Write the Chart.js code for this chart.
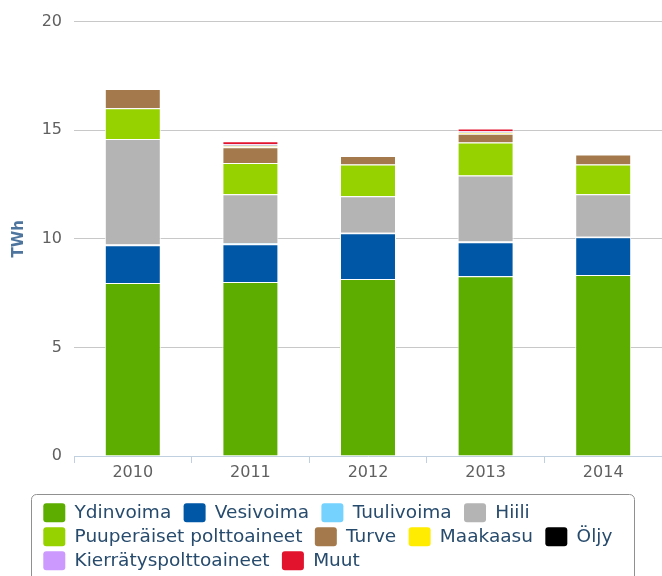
<!DOCTYPE html>
<html>
<head>
<meta charset="utf-8">
<script src="https://cdn.jsdelivr.net/npm/chart.js@4.4.1/dist/chart.umd.min.js"></script>
<style>
  html, body { margin: 0; padding: 0; background: #ffffff; }
  #wrap { width: 662px; height: 576px; position: relative; }
</style>
</head>
<body>
<div id="wrap"><canvas id="c" width="662" height="576"></canvas></div>
<script>
// ---- data (TWh) ----
const categories = ['2010', '2011', '2012', '2013', '2014'];
const ydinvoima  = [7.96, 8.01, 8.15, 8.28, 8.33];
const vesivoima  = [1.74, 1.74, 2.10, 1.56, 1.74];
const tuulivoima = [0.04, 0.04, 0.03, 0.03, 0.03];
const hiili      = [4.85, 2.26, 1.68, 3.05, 1.95];
const puuperaiset = [1.42, 1.44, 1.46, 1.51, 1.37];
const turve      = [0.89, 0.73, 0.39, 0.41, 0.46];
const maakaasu   = [0, 0.045, 0, 0.04, 0];
const oljy       = [0, 0.04, 0, 0.03, 0];
const kierratys  = [0, 0.045, 0, 0.04, 0];
const muut       = [0, 0.14, 0, 0.13, 0];
const yTicks = [0, 5, 10, 15, 20];

const seriesNames = ['Ydinvoima', 'Vesivoima', 'Tuulivoima', 'Hiili', 'Puuperäiset polttoaineet',
  'Turve', 'Maakaasu', 'Öljy', 'Kierrätyspolttoaineet', 'Muut'];
const seriesValues = [ydinvoima, vesivoima, tuulivoima, hiili, puuperaiset, turve, maakaasu, oljy, kierratys, muut];
const seriesColors = ['#5cad00', '#0057a6', '#75d2ff', '#b4b4b4', '#96d100',
  '#a47a4c', '#ffec00', '#000000', '#cc99ff', '#e2132d'];

Chart.defaults.font.family = '"DejaVu Sans", Verdana, sans-serif';

const datasets = seriesNames.map((name, i) => ({
  label: name,
  data: seriesValues[i],
  backgroundColor: seriesColors[i],
  borderColor: '#ffffff',
  borderWidth: 1,
  barPercentage: 0.476,
  categoryPercentage: 1.0
}));

const legendPlace = {
  id: 'legendPlace',
  beforeDraw(chart) {
    const lg = chart.legend;
    lg.left = 38.3;
    lg.right = 660;
    lg.top = 498.2;
    lg.bottom = lg.top + lg.height + 20;
  },
  afterDraw(chart) {
    const lg = chart.legend;
    const ctx = chart.ctx;
    const x = lg.left - 7, y = lg.top - 4.7, w = 634 - x, h = 100, r = 5;
    ctx.save();
    ctx.strokeStyle = '#909090';
    ctx.lineWidth = 1;
    ctx.beginPath();
    const X = Math.round(x) + 0.5, Y = Math.round(y) + 0.5, W = Math.round(w), H = h;
    ctx.moveTo(X + r, Y);
    ctx.lineTo(X + W - r, Y);
    ctx.arcTo(X + W, Y, X + W, Y + r, r);
    ctx.lineTo(X + W, Y + H);
    ctx.moveTo(X, Y + H);
    ctx.lineTo(X, Y + r);
    ctx.arcTo(X, Y, X + r, Y, r);
    ctx.stroke();
    ctx.restore();
  }
};

new Chart(document.getElementById('c'), {
  type: 'bar',
  data: { labels: categories, datasets },
  options: {
    responsive: false,
    animation: false,
    devicePixelRatio: 1,
    layout: { padding: { left: 10, top: 18, right: 0, bottom: 12 } },
    plugins: {
      tooltip: { enabled: false },
      legend: {
        position: 'bottom',
        align: 'start',
        labels: {
          font: { size: 18.5 },
          color: '#274b6d',
          boxWidth: 22,
          boxHeight: 19,
          padding: 5,
          useBorderRadius: true,
          borderRadius: 3,
          generateLabels(chart) {
            const items = Chart.defaults.plugins.legend.labels.generateLabels(chart);
            items.forEach(it => {
              it.text = it.text + '\u2009\u2009';
              it.strokeStyle = it.fillStyle;
              it.lineWidth = 0;
            });
            return items;
          }
        }
      }
    },
    scales: {
      x: {
        stacked: true,
        grid: { offset: true, drawOnChartArea: false, tickLength: 7, color: '#c0d0e0' },
        border: { color: '#c0d0e0' },
        ticks: { color: '#606060', font: { size: 16 }, padding: 0, maxRotation: 0 },
        afterFit(s) { s.height = 26; }
      },
      y: {
        stacked: true,
        min: 0,
        max: 20,
        afterBuildTicks(s) { s.ticks = yTicks.map(v => ({ value: v })); },
        ticks: { color: '#606060', font: { size: 16 }, padding: 12 },
        grid: {
          drawTicks: false,
          color: c => (c.tick && c.tick.value === 0) ? 'rgba(0,0,0,0)' : '#c8c8c8'
        },
        border: { display: false },
        title: {
          display: true,
          text: 'TWh',
          color: '#4d759e',
          font: { size: 15, weight: 'bold' },
          padding: { top: 0, bottom: 0 }
        },
        afterFit(s) { s.width = 64; }
      }
    }
  },
  plugins: [legendPlace]
});
</script>
</body>
</html>
